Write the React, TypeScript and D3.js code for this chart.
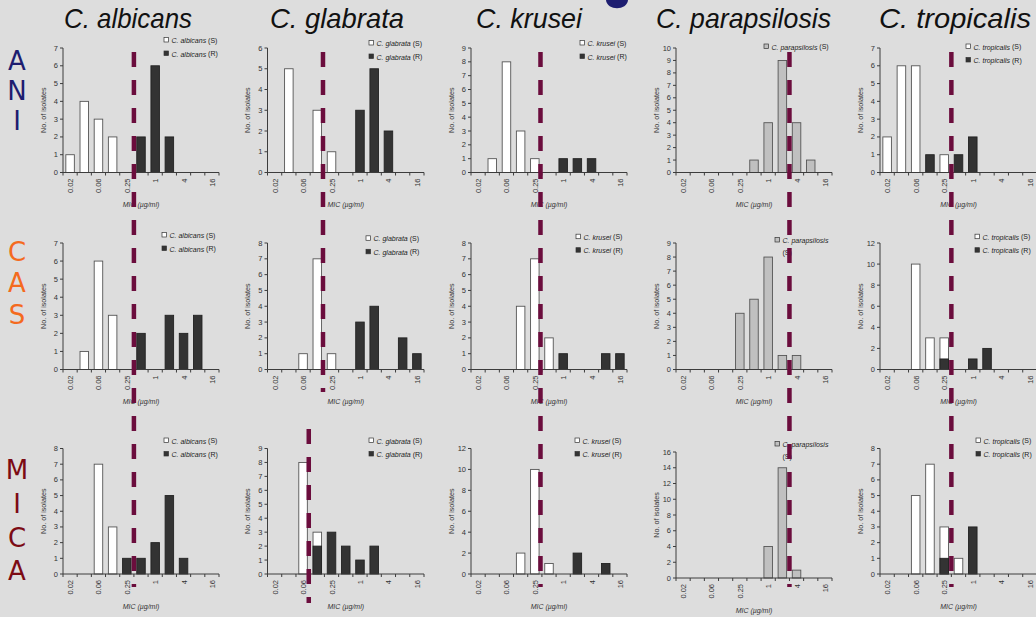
import React from 'react';
import * as d3 from 'd3';

// MIC dilution slots (only every other one is labelled on the axis)
const categories = ['0.02', '0.03', '0.06', '0.12', '0.25', '0.5', '1', '2', '4', '8', '16'];
const species = ['albicans', 'glabrata', 'krusei', 'parapsilosis', 'tropicalis'];
const drugLetters = [['A', 'N', 'I'], ['C', 'A', 'S'], ['M', 'I', 'C', 'A']];

const aniS = [
	[1, 4, 3, 2, 0, 0, 0, 0, 0, 0, 0],
	[0, 5, 0, 3, 1, 0, 0, 0, 0, 0, 0],
	[0, 1, 8, 3, 1, 0, 0, 0, 0, 0, 0],
	[0, 0, 0, 0, 0, 1, 4, 9, 4, 1, 0],
	[2, 6, 6, 0, 1, 0, 0, 0, 0, 0, 0],
];
const aniR = [
	[0, 0, 0, 0, 0, 2, 6, 2, 0, 0, 0],
	[0, 0, 0, 0, 0, 0, 3, 5, 2, 0, 0],
	[0, 0, 0, 0, 0, 0, 1, 1, 1, 0, 0],
	null,
	[0, 0, 0, 1, 0, 1, 2, 0, 0, 0, 0],
];
const casS = [
	[0, 1, 6, 3, 0, 0, 0, 0, 0, 0, 0],
	[0, 0, 1, 7, 1, 0, 0, 0, 0, 0, 0],
	[0, 0, 0, 4, 7, 2, 0, 0, 0, 0, 0],
	[0, 0, 0, 0, 4, 5, 8, 1, 1, 0, 0],
	[0, 0, 10, 3, 3, 0, 0, 0, 0, 0, 0],
];
const casR = [
	[0, 0, 0, 0, 0, 2, 0, 3, 2, 3, 0],
	[0, 0, 0, 0, 0, 0, 3, 4, 0, 2, 1],
	[0, 0, 0, 0, 0, 0, 1, 0, 0, 1, 1],
	null,
	[0, 0, 0, 0, 1, 0, 1, 2, 0, 0, 0],
];
const micaS = [
	[0, 0, 7, 3, 0, 0, 0, 0, 0, 0, 0],
	[0, 0, 8, 3, 0, 0, 0, 0, 0, 0, 0],
	[0, 0, 0, 2, 10, 1, 0, 0, 0, 0, 0],
	[0, 0, 0, 0, 0, 0, 4, 14, 1, 0, 0],
	[0, 0, 5, 7, 3, 1, 0, 0, 0, 0, 0],
];
const micaR = [
	[0, 0, 0, 0, 1, 1, 2, 5, 1, 0, 0],
	[0, 0, 0, 2, 3, 2, 1, 2, 0, 0, 0],
	[0, 0, 0, 0, 0, 0, 0, 2, 0, 1, 0],
	null,
	[0, 0, 0, 0, 1, 0, 3, 0, 0, 0, 0],
];
const aniYMax = [7, 6, 9, 10, 7];
const casYMax = [7, 8, 8, 9, 12];
const micaYMax = [8, 9, 12, 16, 8];
// breakpoint position, in dilution-slot units
const aniBreak = [5, 3.9, 4.9, 8, 5];
const casBreak = [5, 3.9, 4.9, 8, 5];
const micaBreak = [5, 2.9, 4.9, 8, 5];

// layout
const W = 1036;
const H = 617;
const colX = [[63, 219], [267.5, 424], [471, 627], [676, 832], [880, 1037]];
const rowY = [[48, 172.5], [243, 369.5], [448.5, 574]];
const legendDX = [[101, 101.5, 109, 88, 86], [99, 98.5, 105, 99, 95], [101, 101.5, 104, 99, 96]];
const legendDY = [[-8, -5, -5, -1.5, -1.5], [-8, -4.7, -6.3, -3, -6.3], [-8, -8, -8, -8, -8]];
const titleX = [64, 270, 476, 656, 879];
const titleLen = [128, 134, 106, 175, 152];
const letterY = [[61, 91, 121], [252, 283, 315], [470, 504, 538, 571]];
const letterColors = ['#1d1d70', '#f46a1e', '#7c0b14'];
const dashTop = [52, 225, 429];
const dashBottom = [215, 392, 587];

const BG = '#dddddd';
const SMALL = 'Liberation Sans, Arial, sans-serif';
const AXIS = '#3c3c3c';
const DARK = '#333333';
const PARA = '#c0c0c0';
const DASH = '#6b0d3d';

const Panel = ({ s, r, yMax, box, row, col }) => {
	const [x0, x1, y0, y1] = box;
	const xBand = d3.scaleBand().domain(categories).range([x0, x1])
		.paddingInner(0.4).paddingOuter(0.2);
	const xSlot = d3.scaleLinear().domain([0, categories.length]).range([x0, x1]);
	const y = d3.scaleLinear().domain([0, yMax]).range([y1, y0]);
	const step = yMax > 10 ? 2 : 1;
	const yTicks = d3.range(0, yMax + step / 2, step);
	const name = `C. ${ species[col] }`;
	const isPara = r === null;
	const lx = x0 + legendDX[row][col];
	const ly = y0 + legendDY[row][col];
	const items = isPara
		? [{ fill: PARA, tag: '(S)' }]
		: [{ fill: '#ffffff', tag: '(S)' }, { fill: DARK, tag: '(R)' }];
	const wrap = isPara && row > 0;

	const bars = (vals, fill, stroke) => vals.map((v, i) => (v > 0 ? (
		<rect key={ `${ fill }${ i }` } x={ xBand(categories[i]) } y={ y(v) }
			width={ xBand.bandwidth() } height={ y(0) - y(v) }
			fill={ fill } stroke={ stroke } strokeWidth={ 0.9 }/>
	) : null));

	return (
		<g>
			{ bars(s, isPara ? PARA : '#ffffff', '#555') }
			{ r && bars(r, DARK, '#222') }
			{/* y axis */}
			<line x1={ x0 } x2={ x0 } y1={ y0 } y2={ y1 } stroke={ AXIS }/>
			{ yTicks.map((t) => (
				<g key={ t }>
					<line x1={ x0 - 3 } x2={ x0 } y1={ y(t) } y2={ y(t) } stroke={ AXIS }/>
					<text x={ x0 - 5 } y={ y(t) } textAnchor='end' dominantBaseline='central'
						fontFamily={ SMALL } fontSize={ 7.5 } fill='#333'>{ t }</text>
				</g>
			)) }
			{/* x axis */}
			<line x1={ x0 } x2={ x1 } y1={ y1 } y2={ y1 } stroke={ AXIS }/>
			{ d3.range(0, categories.length + 1).map((i) => (
				<line key={ i } x1={ xSlot(i) } x2={ xSlot(i) } y1={ y1 } y2={ y1 + 3 } stroke={ AXIS }/>
			)) }
			{ categories.map((c, i) => (i % 2 === 0 ? (
				<text key={ c } transform={ `translate(${ xSlot(i + 0.5) + 0.5 },${ y1 + 6 }) rotate(-90)` }
					textAnchor='end' dominantBaseline='central'
					fontFamily={ SMALL } fontSize={ 7.5 } fill='#333'>{ c }</text>
			) : null)) }
			<text transform={ `translate(${ x0 - 20 },${ (y0 + y1) / 2 }) rotate(-90)` }
				textAnchor='middle' dominantBaseline='central'
				fontFamily={ SMALL } fontSize={ 7.2 } fill='#333'>No. of isolates</text>
			<text x={ (x0 + x1) / 2 } y={ y1 + 32 } textAnchor='middle' dominantBaseline='central'
				fontFamily={ SMALL } fontSize={ 7 } fontStyle='italic' fill='#333'>MIC (µg/ml)</text>
			{/* legend */}
			{ items.map((it, k) => (
				<g key={ it.tag }>
					<rect x={ lx } y={ ly + k * 13.5 - 2.5 } width={ 4.5 } height={ 4.5 }
						fill={ it.fill } stroke='#333' strokeWidth={ 0.7 }/>
					<text x={ lx + 7.5 } y={ ly + k * 13.5 } dominantBaseline='central'
						fontFamily={ SMALL } fontSize={ 7 } fill='#222'>
						<tspan fontStyle='italic'>{ name }</tspan>
						{ wrap ? null : ` ${ it.tag }` }
					</text>
					{ wrap && (
						<text x={ lx + 7.5 } y={ ly + 12 } dominantBaseline='central'
							fontFamily={ SMALL } fontSize={ 7 } fill='#222'>{ it.tag }</text>
					) }
				</g>
			)) }
		</g>
	);
};

const App = () => {
	const sets = [[aniS, aniR, aniYMax], [casS, casR, casYMax], [micaS, micaR, micaYMax]];
	const breaks = [aniBreak, casBreak, micaBreak];

	const boxOf = (row, col) => {
		const [y0, y1] = row === 2 && col === 3 ? [452, 578] : rowY[row];
		return [colX[col][0], colX[col][1], y0, y1];
	};

	// breakpoint dashes: one line per run of rows sharing the same breakpoint
	const dashes = [];
	species.forEach((sp, col) => {
		const xSlot = d3.scaleLinear().domain([0, categories.length]).range(colX[col]);
		let start = 0;
		for (let row = 1; row <= 3; row++) {
			if (row === 3 || breaks[row][col] !== breaks[start][col]) {
				const end = row - 1;
				const top = dashTop[start];
				const bottom = end === 2 ? (start === 2 ? dashTop[2] + 174 : dashBottom[2]) : dashBottom[end];
				dashes.push({ key: `${ sp }${ start }`, x: xSlot(breaks[start][col]), top, bottom });
				start = row;
			}
		}
	});

	return (
		<svg width={ W } height={ H } style={ { position: 'absolute', left: 0, top: 0 } }>
			<rect width={ W } height={ H } fill={ BG }/>
			{/* tail of the slide heading, cut off above the frame */}
			<path d='M606,0 C607,11 627,11 628,0 Z' fill='#1d1d70'/>
			{ species.map((sp, col) => (
				<text key={ sp } x={ titleX[col] } y={ 28 } textLength={ titleLen[col] }
					lengthAdjust='spacingAndGlyphs' fontFamily={ SMALL } fontStyle='italic'
					fontSize={ 28 } fill='#111'>{ `C. ${ sp }` }</text>
			)) }
			{ drugLetters.map((letters, row) => letters.map((l, k) => (
				<text key={ `${ row }${ k }` } x={ 17 } y={ letterY[row][k] } textAnchor='middle'
					dominantBaseline='central' fontFamily='DejaVu Sans' fontSize={ 26 }
					fill={ letterColors[row] }>{ l }</text>
			))) }
			{ sets.map(([S, R, YM], row) => species.map((sp, col) => (
				<Panel key={ `${ row }${ sp }` } s={ S[col] } r={ R[col] } yMax={ YM[col] }
					box={ boxOf(row, col) } row={ row } col={ col }/>
			))) }
			{ dashes.map((d) => (
				<line key={ d.key } x1={ d.x } x2={ d.x } y1={ d.top } y2={ d.bottom }
					stroke={ DASH } strokeWidth={ 4.5 } strokeDasharray='15 13'/>
			)) }
		</svg>
	);
};

export default App;
